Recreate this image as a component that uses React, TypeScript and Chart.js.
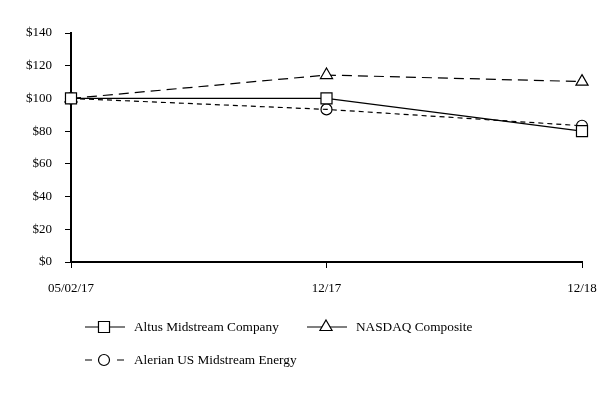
import React, { useEffect, useRef } from "react";
import { Chart, registerables } from "chart.js";
import { drawPoint } from "chart.js/helpers";

Chart.register(...registerables);

const categories = ["05/02/17", "12/17", "12/18"];
const altus = [100, 100, 80];
const nasdaq = [100, 114.3, 110.3];
const alerian = [100, 93.3, 83.3];
const yTicks = [0, 20, 40, 60, 80, 100, 120, 140];

const FONT = "'Liberation Serif', 'Times New Roman', serif";

const legendRows = [
  { ds: 0, x: 85, y: 327, dashed: false },
  { ds: 1, x: 307, y: 327, dashed: false },
  { ds: 2, x: 85, y: 360, dashed: true },
];

const legendPlugin = {
  id: "customLegend",
  afterDraw(chart: any) {
    const ctx = chart.ctx;
    ctx.save();
    legendRows.forEach((r) => {
      const ds = chart.data.datasets[r.ds];
      ctx.strokeStyle = "#000";
      ctx.lineWidth = 1.2;
      ctx.setLineDash([]);
      ctx.beginPath();
      if (r.dashed) {
        ctx.moveTo(r.x, r.y);
        ctx.lineTo(r.x + 7, r.y);
        ctx.moveTo(r.x + 32, r.y);
        ctx.lineTo(r.x + 39, r.y);
      } else {
        ctx.moveTo(r.x, r.y);
        ctx.lineTo(r.x + 40, r.y);
      }
      ctx.stroke();
      ctx.fillStyle = ds.pointBackgroundColor;
      ctx.strokeStyle = "#000";
      ctx.lineWidth = 1.2;
      drawPoint(ctx, { pointStyle: ds.pointStyle, radius: ds.pointRadius, rotation: 0, borderWidth: 1.2 } as any, r.x + 19, r.y);
      ctx.fillStyle = "#000";
      ctx.font = `13.3px ${FONT}`;
      ctx.textBaseline = "middle";
      ctx.textAlign = "left";
      ctx.fillText(ds.label, r.x + 49, r.y + 0.5);
    });
    ctx.restore();
  },
};

export default function App() {
  const ref = useRef<HTMLCanvasElement>(null);
  useEffect(() => {
    document.body.style.margin = "0";
    const chart = new Chart(ref.current!, {
      type: "line",
      data: {
        labels: categories,
        datasets: [
          {
            label: "Altus Midstream Company",
            data: altus,
            borderColor: "#000",
            borderWidth: 1.2,
            pointStyle: "rect",
            pointRadius: 7.8,
            pointBackgroundColor: "#fff",
            pointBorderColor: "#000",
            pointBorderWidth: 1.2,
            tension: 0,
          },
          {
            label: "NASDAQ Composite",
            data: nasdaq,
            borderColor: "#000",
            borderWidth: 1.2,
            borderDash: [10, 6],
            pointStyle: "triangle",
            pointRadius: 7,
            pointBackgroundColor: "#fff",
            pointBorderColor: "#000",
            pointBorderWidth: 1.2,
            tension: 0,
          },
          {
            label: "Alerian US Midstream Energy",
            data: alerian,
            borderColor: "#000",
            borderWidth: 1.2,
            borderDash: [5, 4],
            pointStyle: "circle",
            pointRadius: 5.5,
            pointBackgroundColor: "rgba(0,0,0,0)",
            pointBorderColor: "#000",
            pointBorderWidth: 1.2,
            tension: 0,
          },
        ],
      },
      options: {
        animation: false,
        responsive: false,
        layout: { padding: { top: 33, right: 32, bottom: 104, left: 0 } },
        plugins: { legend: { display: false }, tooltip: { enabled: false } },
        scales: {
          x: {
            offset: false,
            grid: { drawOnChartArea: false, drawTicks: true, tickLength: 6, color: "#000", lineWidth: 1 },
            border: { color: "#000", width: 2 },
            ticks: { color: "#000", font: { family: FONT, size: 13 }, padding: 13, maxRotation: 0, autoSkip: false },
            afterFit: (s: any) => {
              s.height = 30;
            },
          },
          y: {
            min: 0,
            max: 140,
            afterBuildTicks: (s: any) => {
              s.ticks = yTicks.map((v) => ({ value: v }));
            },
            grid: { drawOnChartArea: false, drawTicks: true, tickLength: 6, color: "#000", lineWidth: 1 },
            border: { color: "#000", width: 2 },
            ticks: {
              color: "#000",
              font: { family: FONT, size: 13 },
              padding: 13,
              callback: (v: any) => "$" + v,
            },
            afterFit: (s: any) => {
              s.width = 71;
            },
          },
        },
      },
      plugins: [legendPlugin],
    });
    return () => chart.destroy();
  }, []);
  return (
    <div style={{ width: 614, height: 396 }}>
      <canvas ref={ref} width={614} height={396} style={{ width: 614, height: 396 }} />
    </div>
  );
}
